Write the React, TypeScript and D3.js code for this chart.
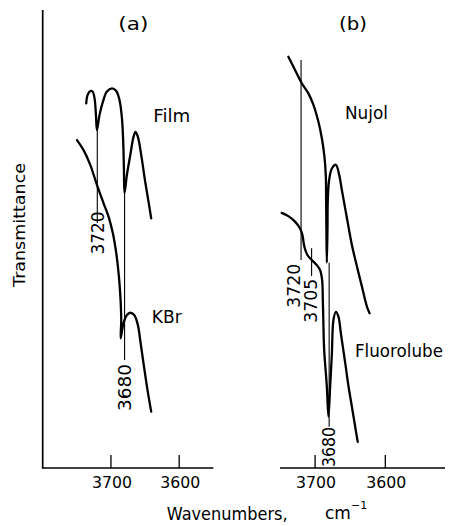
import React from "react";
import * as d3 from "d3";

// Panel (a): Film and KBr spectra  [wavenumber cm-1, transmittance %]
const filmSpectrum: [number, number][] = [
  [3736.2, 79.6], [3734.3, 81.4], [3730.3, 82.3], [3726.9, 82.2], [3724.0, 80.7],
  [3722.0, 77.1], [3720.5, 73.8], [3716.7, 77.1], [3711.7, 80.0], [3705.9, 82.2],
  [3698.5, 82.9], [3692.2, 82.3], [3687.4, 80.3], [3683.9, 76.4], [3682.0, 71.2],
  [3681.0, 65.4], [3680.1, 60.0], [3676.6, 64.0], [3671.7, 68.3], [3666.9, 72.3],
  [3664.0, 73.4], [3660.5, 72.3], [3655.6, 68.3], [3649.8, 62.5], [3644.9, 58.1],
  [3641.0, 54.5],
];
const kbrSpectrum: [number, number][] = [
  [3749.8, 71.6], [3740.1, 69.4], [3730.3, 66.2], [3720.5, 61.8], [3710.8, 57.8],
  [3703.5, 54.9], [3697.1, 51.2], [3692.2, 46.9], [3688.3, 41.8], [3685.9, 36.7],
  [3684.9, 32.3], [3685.7, 28.3], [3681.6, 31.6], [3676.6, 33.4], [3671.7, 33.9],
  [3665.9, 33.4], [3660.5, 31.2], [3657.1, 27.9], [3652.3, 22.9], [3646.4, 17.0],
  [3641.0, 12.3],
];

// Panel (b): Nujol and Fluorolube spectra
const nujolSpectrum: [number, number][] = [
  [3738.1, 89.8], [3728.6, 86.9], [3719.0, 84.0], [3709.6, 81.8], [3702.4, 79.3],
  [3695.3, 75.6], [3690.4, 72.0], [3686.7, 68.0], [3684.7, 63.6], [3684.3, 58.5],
  [3683.9, 52.0], [3683.3, 44.8], [3682.4, 52.0], [3681.9, 58.5], [3680.0, 62.9],
  [3676.1, 65.4], [3670.4, 66.2], [3665.7, 64.0], [3661.9, 60.7], [3654.7, 54.6],
  [3647.6, 48.7], [3640.4, 44.0], [3633.3, 39.6], [3626.1, 35.2], [3622.4, 33.8],
];
const fluorolubeSpectrum: [number, number][] = [
  [3747.6, 55.7], [3738.1, 55.0], [3728.6, 53.8], [3721.4, 52.3], [3718.1, 50.9],
  [3715.3, 48.3], [3711.0, 46.5], [3704.7, 45.4], [3697.6, 44.3], [3692.9, 43.2],
  [3690.0, 41.0], [3689.0, 36.7], [3688.1, 30.9], [3687.1, 25.8], [3683.3, 17.8],
  [3681.0, 11.2], [3678.6, 17.8], [3676.1, 25.0], [3673.9, 32.3], [3670.4, 34.1],
  [3666.7, 33.0], [3663.3, 29.4], [3657.1, 22.9], [3652.4, 17.8], [3647.6, 13.4],
  [3642.9, 9.0], [3639.3, 5.7],
];

// Marked band positions: wavenumber, line top / bottom (transmittance), label centre (transmittance)
const bandWnA = [3720, 3680];
const bandTopA = [73.8, 60.0];
const bandBottomA = [53.5, 23.6];
const bandLabelA = [51.3, 17.6];

const bandWnB = [3720, 3705, 3680];
const bandTopB = [89.1, 48.0, 44.8];
const bandBottomB = [45.4, 41.9, 9.0];
const bandLabelB = [39.8, 36.5, 4.6];
const bandLabelShiftB = [-7, -1, 0];

const tickValues = [3700, 3600];

const FONT = "'DejaVu Sans', sans-serif";

export default function App() {
  const y = d3.scaleLinear().domain([0, 100]).range([468, 10]);
  const xA = d3.scaleLinear().domain([3800, 3550]).range([42.7, 213.3]);
  const xB = d3.scaleLinear().domain([3750, 3515]).range([280, 445]);

  const lineFor = (x: d3.ScaleLinear<number, number>) =>
    d3
      .line<[number, number]>()
      .x((d) => x(d[0]))
      .y((d) => y(d[1]))
      .curve(d3.curveCatmullRom.alpha(0.5));

  const lineA = lineFor(xA);
  const lineB = lineFor(xB);

  const curveStyle = { fill: "none", stroke: "#000", strokeWidth: 2.3, strokeLinejoin: "round" as const, strokeLinecap: "round" as const };
  const refStyle = { stroke: "#000", strokeWidth: 1.1 };
  const axisStyle = { stroke: "#000", strokeWidth: 1.7 };

  const rotLabel = (cx: number, cy: number, text: string, len: number, key: string) => (
    <text
      key={key}
      transform={`translate(${cx},${cy}) rotate(-90)`}
      textAnchor="middle"
      dominantBaseline="central"
      fontSize={17}
      fontFamily={FONT}
      textLength={len}
      lengthAdjust="spacingAndGlyphs"
    >
      {text}
    </text>
  );

  return (
    <svg
      width={450}
      height={526}
      style={{ position: "absolute", left: 0, top: 0, background: "#fff" }}
      fontFamily={FONT}
    >
      <rect x={0} y={0} width={450} height={526} fill="#fff" />

      {/* Axes panel (a) */}
      <line x1={xA(3800)} x2={xA(3800)} y1={y(100)} y2={y(0) + 0.8} {...axisStyle} />
      <line x1={xA(3800)} x2={xA(3550)} y1={y(0)} y2={y(0)} {...axisStyle} />
      {tickValues.map((t) => (
        <g key={"ta" + t}>
          <line x1={xA(t)} x2={xA(t)} y1={y(0)} y2={y(0) - 13} stroke="#000" strokeWidth={1.3} />
          <text x={xA(t) + 1} y={488} textAnchor="middle" fontSize={16} textLength={40} lengthAdjust="spacingAndGlyphs">
            {t}
          </text>
        </g>
      ))}

      {/* Axes panel (b) */}
      <line x1={xB(3750)} x2={xB(3515)} y1={y(0)} y2={y(0)} {...axisStyle} />
      {tickValues.map((t) => (
        <g key={"tb" + t}>
          <line x1={xB(t)} x2={xB(t)} y1={y(0)} y2={y(0) - 13} stroke="#000" strokeWidth={1.3} />
          <text x={xB(t) + 1} y={488} textAnchor="middle" fontSize={16} textLength={40} lengthAdjust="spacingAndGlyphs">
            {t}
          </text>
        </g>
      ))}

      {/* Reference lines panel (a) */}
      {bandWnA.map((wn, i) => (
        <g key={"ra" + i}>
          <line x1={xA(wn)} x2={xA(wn)} y1={y(bandTopA[i])} y2={y(bandBottomA[i])} {...refStyle} />
          {rotLabel(xA(wn) + 0.5, y(bandLabelA[i]), String(wn), i === 0 ? 43 : 47, "la" + i)}
        </g>
      ))}

      {/* Reference lines panel (b) */}
      {bandWnB.map((wn, i) => (
        <g key={"rb" + i}>
          <line x1={xB(wn)} x2={xB(wn)} y1={y(bandTopB[i])} y2={y(bandBottomB[i])} {...refStyle} />
          {rotLabel(xB(wn) + bandLabelShiftB[i], y(bandLabelB[i]), String(wn), i === 2 ? 40 : 44, "lb" + i)}
        </g>
      ))}

      {/* Spectra */}
      <path d={lineA(filmSpectrum) ?? ""} {...curveStyle} />
      <path d={lineA(kbrSpectrum) ?? ""} {...curveStyle} />
      <path d={lineB(nujolSpectrum) ?? ""} {...curveStyle} />
      <path d={lineB(fluorolubeSpectrum) ?? ""} {...curveStyle} />

      {/* Panel titles & sample labels */}
      <text x={133.3} y={30} textAnchor="middle" fontSize={18} textLength={30} lengthAdjust="spacingAndGlyphs">(a)</text>
      <text x={353} y={30} textAnchor="middle" fontSize={18} textLength={28} lengthAdjust="spacingAndGlyphs">(b)</text>
      <text x={153.3} y={121.7} fontSize={17} textLength={37} lengthAdjust="spacingAndGlyphs">Film</text>
      <text x={151.7} y={323} fontSize={17} textLength={30} lengthAdjust="spacingAndGlyphs">KBr</text>
      <text x={345} y={119} fontSize={17} textLength={43} lengthAdjust="spacingAndGlyphs">Nujol</text>
      <text x={355} y={356.7} fontSize={17} textLength={88} lengthAdjust="spacingAndGlyphs">Fluorolube</text>

      {/* Axis titles */}
      <text
        transform="translate(20,225) rotate(-90)"
        textAnchor="middle"
        dominantBaseline="central"
        fontSize={15}
        textLength={124}
        lengthAdjust="spacingAndGlyphs"
      >
        Transmittance
      </text>
      <text x={166.7} y={520} fontSize={17} textLength={121} lengthAdjust="spacingAndGlyphs">Wavenumbers,</text>
      <text x={325} y={519} fontSize={17}>
        cm
        <tspan dy={-10} fontSize={11}>−1</tspan>
      </text>
    </svg>
  );
}
